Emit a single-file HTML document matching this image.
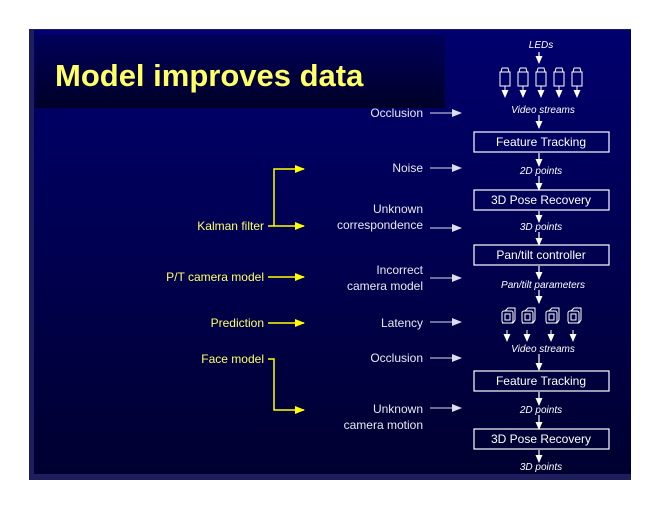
<!DOCTYPE html>
<html><head><style>
html,body{margin:0;padding:0;background:#fff;width:660px;height:510px;overflow:hidden}
svg{display:block}
text{font-family:"Liberation Sans",sans-serif}
</style></head><body>
<svg width="660" height="510" xmlns="http://www.w3.org/2000/svg">
<defs>
<linearGradient id="bg" x1="0" y1="0" x2="0" y2="1">
<stop offset="0" stop-color="#00006e"/><stop offset="0.5" stop-color="#000050"/><stop offset="1" stop-color="#000030"/>
</linearGradient>
<linearGradient id="tb" x1="0" y1="0" x2="0" y2="1">
<stop offset="0" stop-color="#00005a"/><stop offset="1" stop-color="#000028"/>
</linearGradient>
<marker id="aw" markerWidth="8" markerHeight="8" refX="7" refY="4" orient="auto" markerUnits="userSpaceOnUse"><path d="M0,0.5 L8,4 L0,7.5 z" fill="#fff"/></marker>
<marker id="ay" markerWidth="10" markerHeight="8" refX="9" refY="4" orient="auto" markerUnits="userSpaceOnUse"><path d="M0,0 L10,4 L0,8 z" fill="#ffff00"/></marker>
<marker id="ag" markerWidth="10" markerHeight="8" refX="9" refY="4" orient="auto" markerUnits="userSpaceOnUse"><path d="M0,0 L10,4 L0,8 z" fill="#dde"/></marker>
</defs>
<rect x="29" y="29" width="602" height="451" fill="#1e1e5e"/>
<rect x="34" y="30" width="597" height="444" fill="url(#bg)"/>
<rect x="35" y="35" width="410" height="73" fill="url(#tb)"/>
<text x="55" y="86" font-size="31" font-weight="bold" fill="#ffff66">Model improves data</text>

<g fill="#ffff66" font-size="12" text-anchor="end">
<text x="264" y="230">Kalman filter</text>
<text x="264" y="281">P/T camera model</text>
<text x="264" y="327">Prediction</text>
<text x="264" y="363">Face model</text>
</g>
<g stroke="#ffff00" stroke-width="1.5" fill="none">
<path d="M268,226 H304" marker-end="url(#ay)"/>
<path d="M274,226 V169 H304" marker-end="url(#ay)"/>
<path d="M268,277 H304" marker-end="url(#ay)"/>
<path d="M268,323 H304" marker-end="url(#ay)"/>
<path d="M268,359 H274 V410 H304" marker-end="url(#ay)"/>
</g>

<g fill="#e8e8f0" font-size="12" text-anchor="end">
<text x="423" y="117">Occlusion</text>
<text x="423" y="172">Noise</text>
<text x="423" y="213">Unknown</text>
<text x="423" y="229">correspondence</text>
<text x="423" y="274">Incorrect</text>
<text x="423" y="290">camera model</text>
<text x="423" y="327">Latency</text>
<text x="423" y="362">Occlusion</text>
<text x="423" y="413">Unknown</text>
<text x="423" y="429">camera motion</text>
</g>
<g stroke="#dde" stroke-width="1" fill="none">
<path d="M430,113 H461" marker-end="url(#ag)"/>
<path d="M430,168 H461" marker-end="url(#ag)"/>
<path d="M430,228 H461" marker-end="url(#ag)"/>
<path d="M430,278 H461" marker-end="url(#ag)"/>
<path d="M430,322 H461" marker-end="url(#ag)"/>
<path d="M430,358 H461" marker-end="url(#ag)"/>
<path d="M430,408 H461" marker-end="url(#ag)"/>
</g>

<g fill="#fff" font-size="10" font-style="italic" text-anchor="middle">
<text x="541" y="48">LEDs</text>
<text x="543" y="113">Video streams</text>
<text x="541" y="174">2D points</text>
<text x="541" y="230">3D points</text>
<text x="543" y="288">Pan/tilt parameters</text>
<text x="543" y="352">Video streams</text>
<text x="541" y="413">2D points</text>
<text x="541" y="470">3D points</text>
</g>
<g stroke="#fff" stroke-width="1.2" fill="none">
<path d="M539,52 V63" marker-end="url(#aw)"/>
<path d="M539,115 V128" marker-end="url(#aw)"/>
<path d="M539,153 V166" marker-end="url(#aw)"/>
<path d="M539,176 V190" marker-end="url(#aw)"/>
<path d="M539,211 V222" marker-end="url(#aw)"/>
<path d="M539,232 V245" marker-end="url(#aw)"/>
<path d="M539,266 V279" marker-end="url(#aw)"/>
<path d="M539,290 V303" marker-end="url(#aw)"/>
<path d="M539,354 V370" marker-end="url(#aw)"/>
<path d="M539,392 V405" marker-end="url(#aw)"/>
<path d="M539,415 V429" marker-end="url(#aw)"/>
<path d="M539,450 V462" marker-end="url(#aw)"/>
</g>
<g stroke="#fff" stroke-width="1" fill="none">
<g id="cam"><rect x="500" y="72" width="10" height="14"/><path d="M502,68 H508 L509,72 M502,68 L501,72"/><path d="M505,86 V97" marker-end="url(#aw)"/></g>
<use href="#cam" x="18"/><use href="#cam" x="36"/><use href="#cam" x="54"/><use href="#cam" x="72"/>
</g>
<g stroke="#fff" stroke-width="1" fill="none">
<g id="pt"><rect x="502" y="311" width="11" height="12" rx="2"/><rect x="505" y="314" width="5" height="6"/><path d="M505,311 L508,308 H515 V320 L513,323"/><path d="M502,323 H513"/><path d="M507,330 V341" marker-end="url(#aw)"/></g>
<use href="#pt" x="20"/><use href="#pt" x="44"/><use href="#pt" x="66"/>
</g>

<g stroke="#fff" stroke-width="1.2" fill="none">
<rect x="474" y="132" width="135" height="20"/>
<rect x="474" y="190" width="135" height="20"/>
<rect x="474" y="245" width="135" height="20"/>
<rect x="474" y="371" width="135" height="20"/>
<rect x="474" y="429" width="135" height="20"/>
</g>
<g fill="#fff" font-size="12" text-anchor="middle">
<text x="541" y="146">Feature Tracking</text>
<text x="541" y="204">3D Pose Recovery</text>
<text x="541" y="259">Pan/tilt controller</text>
<text x="541" y="385">Feature Tracking</text>
<text x="541" y="443">3D Pose Recovery</text>
</g>
</svg>
</body></html>
